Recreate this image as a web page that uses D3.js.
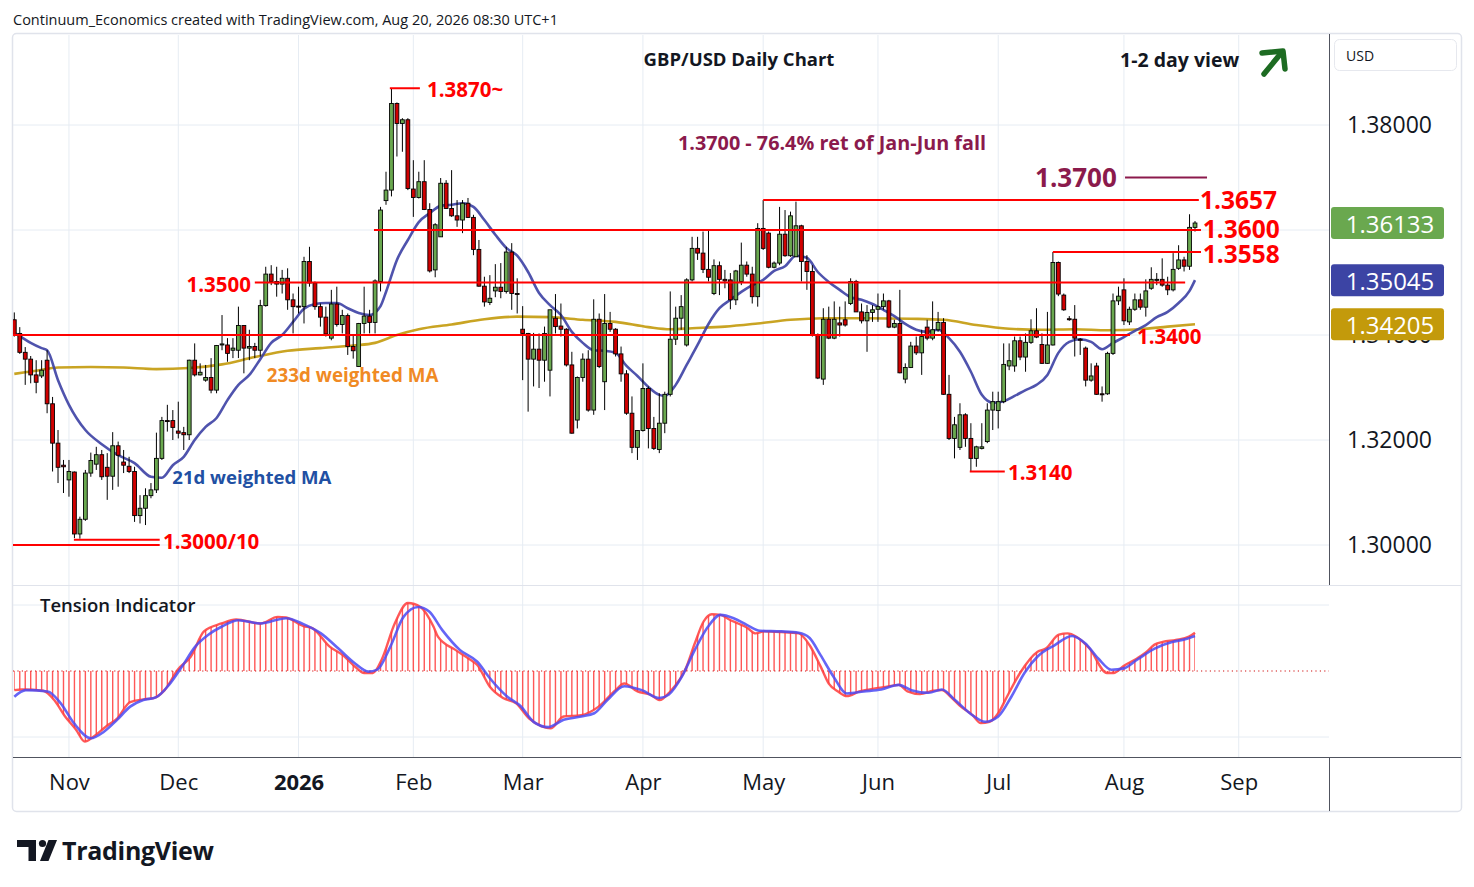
<!DOCTYPE html>
<html>
<head>
<meta charset="utf-8">
<script src="https://cdn.jsdelivr.net/npm/d3@7"></script>
<style>
  body { margin: 0; background: #fff; }
  svg { display: block; font-family: "Open Sans", sans-serif; }
</style>
</head>
<body>
<svg id="chart" width="1474" height="887"></svg>
<script>
// GBP/USD daily candles, Oct 20 2025 - Aug 20 2026 (open, high, low, close)
const ohlc = [
  [1.3429,1.3443,1.3397,1.3400],[1.3403,1.3415,1.3364,1.3367],[1.3367,1.3377,1.3305,1.3354],[1.3354,1.3360,1.3308,1.3324],
  [1.3324,1.3352,1.3289,1.3310],[1.3322,1.3352,1.3318,1.3333],[1.3352,1.3371,1.3251,1.3269],[1.3269,1.3282,1.3140,1.3194],
  [1.3194,1.3219,1.3118,1.3148],[1.3152,1.3162,1.3099,1.3149],[1.3124,1.3162,1.3092,1.3140],[1.3139,1.3140,1.3013,1.3021],
  [1.3021,1.3054,1.3012,1.3049],[1.3049,1.3143,1.3046,1.3137],[1.3137,1.3176,1.3130,1.3161],[1.3154,1.3187,1.3143,1.3172],
  [1.3172,1.3181,1.3124,1.3130],[1.3148,1.3175,1.3086,1.3131],[1.3131,1.3215,1.3105,1.3189],[1.3189,1.3197,1.3111,1.3171],
  [1.3158,1.3181,1.3137,1.3152],[1.3150,1.3168,1.3137,1.3140],[1.3140,1.3149,1.3044,1.3056],[1.3056,1.3095,1.3041,1.3070],
  [1.3070,1.3108,1.3038,1.3094],[1.3094,1.3118,1.3089,1.3105],[1.3105,1.3214,1.3099,1.3165],[1.3165,1.3244,1.3162,1.3237],
  [1.3237,1.3267,1.3216,1.3236],[1.3237,1.3257,1.3200,1.3224],[1.3217,1.3273,1.3203,1.3213],[1.3214,1.3225,1.3181,1.3210],
  [1.3210,1.3353,1.3200,1.3352],[1.3352,1.3384,1.3321,1.3324],[1.3324,1.3346,1.3323,1.3329],[1.3314,1.3343,1.3311,1.3319],
  [1.3319,1.3356,1.3289,1.3295],[1.3295,1.3381,1.3289,1.3380],[1.3381,1.3438,1.3371,1.3383],[1.3381,1.3394,1.3349,1.3365],
  [1.3371,1.3394,1.3356,1.3375],[1.3371,1.3454,1.3356,1.3418],[1.3418,1.3419,1.3327,1.3375],[1.3375,1.3410,1.3352,1.3378],
  [1.3378,1.3385,1.3356,1.3371],[1.3371,1.3467,1.3359,1.3456],[1.3456,1.3530,1.3454,1.3516],[1.3516,1.3533,1.3495,1.3502],
  [1.3502,1.3530,1.3473,1.3497],[1.3497,1.3524,1.3479,1.3508],[1.3508,1.3527,1.3448,1.3467],[1.3467,1.3479,1.3403,1.3454],
  [1.3455,1.3492,1.3441,1.3454],[1.3454,1.3549,1.3422,1.3540],[1.3540,1.3568,1.3492,1.3499],[1.3499,1.3502,1.3448,1.3454],
  [1.3454,1.3460,1.3416,1.3434],[1.3434,1.3454,1.3397,1.3402],[1.3394,1.3486,1.3390,1.3459],[1.3459,1.3492,1.3416,1.3420],
  [1.3420,1.3448,1.3403,1.3437],[1.3437,1.3441,1.3362,1.3378],[1.3378,1.3400,1.3355,1.3370],[1.3340,1.3423,1.3339,1.3422],
  [1.3422,1.3492,1.3403,1.3436],[1.3436,1.3448,1.3403,1.3424],[1.3424,1.3506,1.3403,1.3503],[1.3502,1.3644,1.3483,1.3638],
  [1.3656,1.3711,1.3648,1.3676],[1.3676,1.3870,1.3664,1.3841],[1.3841,1.3843,1.3740,1.3803],[1.3803,1.3813,1.3749,1.3810],
  [1.3810,1.3813,1.3676,1.3679],[1.3678,1.3733,1.3625,1.3662],[1.3662,1.3711,1.3660,1.3692],[1.3692,1.3733,1.3638,1.3639],
  [1.3639,1.3651,1.3519,1.3522],[1.3524,1.3613,1.3510,1.3610],[1.3587,1.3699,1.3587,1.3689],[1.3689,1.3695,1.3640,1.3641],
  [1.3641,1.3714,1.3625,1.3627],[1.3627,1.3657,1.3606,1.3619],[1.3619,1.3657,1.3594,1.3651],[1.3651,1.3661,1.3623,1.3624],
  [1.3624,1.3629,1.3552,1.3563],[1.3563,1.3581,1.3492,1.3493],[1.3493,1.3511,1.3454,1.3463],[1.3462,1.3514,1.3457,1.3470],
  [1.3484,1.3535,1.3472,1.3491],[1.3491,1.3537,1.3470,1.3483],[1.3483,1.3568,1.3479,1.3558],[1.3558,1.3575,1.3448,1.3479],
  [1.3479,1.3508,1.3441,1.3478],[1.3411,1.3455,1.3314,1.3403],[1.3403,1.3404,1.3254,1.3354],[1.3354,1.3404,1.3302,1.3373],
  [1.3373,1.3403,1.3299,1.3352],[1.3352,1.3416,1.3311,1.3403],[1.3333,1.3448,1.3283,1.3448],[1.3432,1.3478,1.3403,1.3416],
  [1.3417,1.3460,1.3397,1.3411],[1.3411,1.3413,1.3340,1.3343],[1.3343,1.3368,1.3212,1.3213],[1.3238,1.3321,1.3222,1.3319],
  [1.3319,1.3365,1.3311,1.3354],[1.3354,1.3371,1.3254,1.3257],[1.3257,1.3468,1.3248,1.3430],[1.3430,1.3441,1.3337,1.3340],
  [1.3311,1.3478,1.3257,1.3422],[1.3422,1.3444,1.3406,1.3411],[1.3411,1.3413,1.3359,1.3364],[1.3364,1.3378,1.3311,1.3326],
  [1.3326,1.3333,1.3248,1.3251],[1.3251,1.3283,1.3175,1.3186],[1.3186,1.3219,1.3162,1.3218],[1.3218,1.3346,1.3216,1.3298],
  [1.3298,1.3302,1.3184,1.3222],[1.3222,1.3244,1.3181,1.3184],[1.3182,1.3289,1.3175,1.3232],[1.3232,1.3292,1.3213,1.3287],
  [1.3287,1.3483,1.3283,1.3392],[1.3392,1.3454,1.3381,1.3432],[1.3432,1.3476,1.3410,1.3454],[1.3381,1.3508,1.3378,1.3505],
  [1.3505,1.3587,1.3502,1.3565],[1.3565,1.3587,1.3543,1.3556],[1.3556,1.3597,1.3518,1.3525],[1.3525,1.3599,1.3502,1.3510],
  [1.3479,1.3544,1.3476,1.3532],[1.3532,1.3540,1.3476,1.3506],[1.3506,1.3524,1.3489,1.3503],[1.3505,1.3518,1.3449,1.3467],
  [1.3467,1.3524,1.3457,1.3522],[1.3502,1.3576,1.3495,1.3533],[1.3533,1.3540,1.3511,1.3516],[1.3516,1.3530,1.3460,1.3473],
  [1.3473,1.3613,1.3454,1.3603],[1.3603,1.3657,1.3562,1.3565],[1.3594,1.3597,1.3527,1.3529],[1.3529,1.3540,1.3527,1.3537],
  [1.3537,1.3644,1.3533,1.3592],[1.3592,1.3638,1.3549,1.3551],[1.3551,1.3635,1.3549,1.3627],[1.3549,1.3654,1.3549,1.3608],
  [1.3608,1.3610,1.3502,1.3540],[1.3540,1.3552,1.3486,1.3521],[1.3521,1.3533,1.3397,1.3400],[1.3400,1.3403,1.3316,1.3318],
  [1.3316,1.3451,1.3305,1.3430],[1.3430,1.3454,1.3392,1.3394],[1.3394,1.3464,1.3392,1.3430],[1.3423,1.3454,1.3397,1.3419],
  [1.3429,1.3464,1.3416,1.3419],[1.3460,1.3508,1.3457,1.3502],[1.3502,1.3505,1.3444,1.3444],[1.3444,1.3460,1.3422,1.3427],
  [1.3427,1.3457,1.3368,1.3443],[1.3443,1.3457,1.3425,1.3448],[1.3449,1.3479,1.3425,1.3454],[1.3454,1.3479,1.3448,1.3465],
  [1.3465,1.3467,1.3413,1.3415],[1.3415,1.3429,1.3413,1.3422],[1.3422,1.3486,1.3327,1.3328],[1.3316,1.3346,1.3308,1.3338],
  [1.3338,1.3387,1.3337,1.3379],[1.3379,1.3397,1.3362,1.3366],[1.3366,1.3410,1.3324,1.3397],[1.3415,1.3429,1.3390,1.3394],
  [1.3394,1.3464,1.3390,1.3410],[1.3410,1.3444,1.3406,1.3424],[1.3424,1.3432,1.3286,1.3287],[1.3287,1.3324,1.3200,1.3203],
  [1.3203,1.3244,1.3165,1.3229],[1.3186,1.3270,1.3181,1.3248],[1.3248,1.3251,1.3187,1.3203],[1.3203,1.3232,1.3140,1.3165],
  [1.3165,1.3189,1.3149,1.3187],[1.3184,1.3232,1.3182,1.3187],[1.3197,1.3270,1.3194,1.3257],[1.3257,1.3292,1.3219,1.3273],
  [1.3256,1.3292,1.3222,1.3273],[1.3273,1.3384,1.3270,1.3344],[1.3341,1.3384,1.3333,1.3351],[1.3341,1.3397,1.3330,1.3389],
  [1.3389,1.3397,1.3352,1.3358],[1.3358,1.3403,1.3330,1.3386],[1.3386,1.3430,1.3383,1.3408],[1.3408,1.3451,1.3394,1.3396],
  [1.3382,1.3403,1.3345,1.3346],[1.3346,1.3444,1.3345,1.3381],[1.3381,1.3558,1.3380,1.3538],[1.3538,1.3540,1.3474,1.3478],
  [1.3476,1.3479,1.3446,1.3448],[1.3431,1.3436,1.3427,1.3430],[1.3430,1.3457,1.3359,1.3394],[1.3392,1.3394,1.3362,1.3390],
  [1.3375,1.3378,1.3302,1.3314],[1.3314,1.3346,1.3311,1.3322],[1.3341,1.3347,1.3286,1.3287],[1.3288,1.3302,1.3273,1.3287],
  [1.3288,1.3368,1.3286,1.3365],[1.3365,1.3479,1.3362,1.3465],[1.3465,1.3492,1.3457,1.3474],[1.3486,1.3508,1.3419,1.3427],
  [1.3425,1.3454,1.3419,1.3449],[1.3449,1.3479,1.3446,1.3467],[1.3467,1.3479,1.3448,1.3453],[1.3453,1.3506,1.3435,1.3484],
  [1.3489,1.3529,1.3486,1.3506],[1.3505,1.3518,1.3495,1.3506],[1.3506,1.3546,1.3492,1.3495],[1.3495,1.3511,1.3476,1.3486],
  [1.3486,1.3556,1.3483,1.3525],[1.3527,1.3571,1.3524,1.3543],[1.3543,1.3549,1.3521,1.3531],[1.3531,1.3630,1.3524,1.3605],
  [1.3605,1.3617,1.3597,1.36133]
];

// 21d weighted MA: [bar index, price]
const ma21 = [
  [0,1.3404],[1,1.3398],[3,1.3385],[5,1.3375],[6,1.3371],[8,1.3314],[10,1.3267],[13,1.3219],[16,1.3192],[19,1.3171],
  [22,1.3156],[25,1.3130],[27,1.3128],[29,1.3152],[31,1.3168],[33,1.3200],[35,1.3225],[37,1.3242],[39,1.3276],[41,1.3305],
  [43,1.3324],[45,1.3354],[47,1.3385],[49,1.3400],[51,1.3425],[53,1.3450],[55,1.3459],[57,1.3461],[59,1.3461],[61,1.3451],
  [63,1.3442],[65,1.3438],[67,1.3455],[68,1.3482],[70,1.3543],[72,1.3581],[74,1.3615],[76,1.3632],[78,1.3646],[80,1.3648],
  [82,1.3651],[84,1.3644],[86,1.3619],[88,1.3591],[90,1.3566],[92,1.3551],[94,1.3520],[96,1.3480],[98,1.3457],[100,1.3438],
  [102,1.3406],[104,1.3385],[106,1.3371],[108,1.3370],[110,1.3366],[112,1.3341],[114,1.3322],[116,1.3301],[118,1.3286],[119,1.3284],
  [121,1.3305],[123,1.3343],[125,1.3381],[127,1.3421],[129,1.3451],[131,1.3467],[133,1.3482],[135,1.3495],[137,1.3505],[139,1.3522],
  [141,1.3531],[143,1.3551],[145,1.3547],[147,1.3520],[149,1.3501],[151,1.3486],[153,1.3472],[155,1.3467],[157,1.3459],[159,1.3448],
  [161,1.3436],[163,1.3421],[165,1.3410],[167,1.3406],[169,1.3410],[171,1.3394],[173,1.3368],[175,1.3330],[177,1.3286],[179,1.3271],
  [181,1.3274],[183,1.3284],[185,1.3295],[187,1.3305],[189,1.3324],[191,1.3366],[193,1.3387],[195,1.3392],[197,1.3387],[199,1.3373],
  [201,1.3385],[203,1.3396],[205,1.3408],[207,1.3419],[209,1.3434],[211,1.3444],[213,1.3461],[215,1.3484],[216,1.35045]
];

// 233d weighted MA: [bar index, price]
const ma233 = [
  [0,1.3326],[4,1.3332],[8,1.3338],[14,1.3339],[20,1.3338],[26,1.3335],[32,1.3337],[38,1.3344],[44,1.3358],[50,1.3370],
  [56,1.3375],[62,1.3380],[66,1.3385],[70,1.3400],[74,1.3411],[80,1.3420],[86,1.3430],[92,1.3435],[98,1.3434],[104,1.3429],
  [110,1.3425],[116,1.3415],[120,1.3411],[124,1.3413],[130,1.3416],[136,1.3422],[142,1.3429],[148,1.3432],[156,1.3432],[164,1.3431],
  [170,1.3429],[176,1.3419],[182,1.3412],[188,1.3410],[194,1.3411],[200,1.3409],[206,1.3411],[211,1.3416],[216,1.34205]
];

// Tension Indicator, fast (red) and slow (blue) lines: [bar index, value]
const tensionFast = [
  [0,-0.29],[1.4,-0.28],[5.3,-0.30],[7.3,-0.44],[9.3,-0.69],[11.3,-0.89],[12.9,-1.07],[14.4,-1.00],[16.8,-0.84],[18.8,-0.72],
  [21.2,-0.47],[23.6,-0.43],[25.5,-0.41],[27.5,-0.29],[29.9,0.02],[32.3,0.22],[34.7,0.60],[37.9,0.72],[40.6,0.78],[45,0.72],
  [48.2,0.82],[49.7,0.81],[52.9,0.68],[54.5,0.65],[57.7,0.37],[60.1,0.24],[62.4,0.06],[64,-0.03],[65.6,-0.03],[67.2,0.17],
  [69.6,0.72],[72,1.03],[74.3,0.97],[76.7,0.67],[77.5,0.52],[80.7,0.32],[83.1,0.19],[84.7,0.09],[87,-0.24],[89.4,-0.41],
  [91.8,-0.49],[94.2,-0.72],[96.5,-0.84],[98.1,-0.87],[100.5,-0.69],[103.7,-0.67],[106.9,-0.54],[110,-0.29],[111.6,-0.19],[114,-0.31],
  [116.4,-0.36],[118,-0.44],[120,-0.31],[122.9,0.05],[124.5,0.42],[126.1,0.75],[127.6,0.86],[129.2,0.85],[130.8,0.78],[132.4,0.72],
  [134,0.66],[135.6,0.57],[137.2,0.60],[140.3,0.59],[143.5,0.57],[145.5,0.39],[147.5,0.07],[149,-0.19],[150.7,-0.31],[152.3,-0.38],
  [154.6,-0.31],[157.8,-0.26],[160.2,-0.23],[161.8,-0.21],[163.4,-0.31],[165.7,-0.35],[168.1,-0.30],[169.7,-0.29],[171.3,-0.39],[172.9,-0.52],
  [175.3,-0.67],[176.8,-0.79],[178.4,-0.77],[180,-0.64],[181.6,-0.39],[184,-0.03],[187.2,0.29],[188.7,0.34],[191.1,0.55],[192.7,0.57],
  [194.3,0.52],[196.7,0.34],[199.9,-0.03],[201.1,-0.03],[203,0.08],[205.4,0.19],[207,0.28],[208.6,0.40],[210.1,0.44],[212.5,0.47],
  [214.9,0.52],[216,0.58]
];
const tensionSlow = [
  [0,-0.39],[2.1,-0.29],[6.1,-0.31],[8.5,-0.49],[10.9,-0.79],[14,-1.02],[16.4,-0.92],[18.8,-0.74],[21.2,-0.54],[23.6,-0.44],
  [25.9,-0.40],[28.3,-0.21],[30.7,0.07],[33.1,0.37],[35.5,0.55],[37.9,0.67],[41,0.77],[45,0.72],[49.7,0.80],[52.9,0.71],
  [56.1,0.57],[59.3,0.34],[62.4,0.11],[64.8,-0.01],[66.4,0.02],[68.8,0.37],[71.2,0.82],[73.9,0.97],[75.9,0.90],[78.3,0.62],
  [81.5,0.32],[84.7,0.14],[87,-0.11],[90.2,-0.39],[92.6,-0.53],[95,-0.77],[97.7,-0.85],[100.5,-0.74],[103.7,-0.69],[106.1,-0.64],
  [108.5,-0.44],[111.6,-0.23],[114.8,-0.29],[118,-0.41],[119.7,-0.36],[122.1,-0.09],[124.5,0.32],[126.9,0.67],[129.2,0.85],[131.6,0.80],
  [134,0.70],[136.4,0.61],[140.3,0.60],[143.5,0.58],[145.5,0.50],[147.5,0.24],[149.9,-0.09],[152.3,-0.34],[155.4,-0.31],[158.6,-0.28],
  [161.8,-0.21],[164.1,-0.29],[167.3,-0.33],[169.7,-0.28],[172.1,-0.44],[175.3,-0.67],[177.6,-0.77],[180,-0.69],[182.4,-0.39],[184.8,-0.03],
  [187.2,0.22],[190.3,0.39],[193.5,0.53],[195.9,0.42],[198.3,0.19],[200.7,0.02],[203,0.04],[205.4,0.17],[208.6,0.34],[211.8,0.44],
  [214.2,0.48],[216,0.53]
];

// month labels on the time axis
const monthLabels = ["Nov", "Dec", "2026", "Feb", "Mar", "Apr", "May", "Jun", "Jul", "Aug", "Sep"];
const priceTicks = [1.30, 1.32, 1.34, 1.36, 1.38];

// support / resistance levels (price, from bar, to bar)
const levelLines = [
  { price: 1.3870, from: 68.7, to: 74.2 },
  { price: 1.3657, from: 137, to: 216.7 },
  { price: 1.3600, from: 65.8, to: 217.1 },
  { price: 1.3558, from: 190, to: 217.1 },
  { price: 1.3500, from: 44.0, to: 214.2 },
  { price: 1.3400, from: -0.4, to: 204.1 },
  { price: 1.3140, from: 174.8, to: 181.2 },
  { price: 1.3010, from: 10.9, to: 26.6 },
  { price: 1.3000, from: -0.4, to: 26.6 }
];
const levelLabels = [
  { text: "1.3870~", price: 1.3868, at: 75.5, anchor: "start", big: false },
  { text: "1.3657", price: 1.3659, at: 216.9, anchor: "start", big: true },
  { text: "1.3600", price: 1.3602, at: 217.4, anchor: "start", big: true },
  { text: "1.3558", price: 1.3555, at: 217.4, anchor: "start", big: true },
  { text: "1.3500", price: 1.3497, at: 43.3, anchor: "end", big: false },
  { text: "1.3400", price: 1.3398, at: 205.4, anchor: "start", big: false },
  { text: "1.3140", price: 1.3140, at: 181.8, anchor: "start", big: false },
  { text: "1.3000/10", price: 1.3007, at: 27.2, anchor: "start", big: false }
];
const retraceLevel = { price: 1.3700, from: 203.2, to: 218.2, text: "1.3700", note: "1.3700 - 76.4% ret of Jan-Jun fall" };

// trading calendar: weekdays, no bars on Dec 25 and Jan 1
const dates = [];
for (let d = new Date(2025, 9, 20); d <= new Date(2026, 8, 30); d.setDate(d.getDate() + 1)) {
  const wd = d.getDay();
  if (wd === 0 || wd === 6) continue;
  if ((d.getMonth() === 11 && d.getDate() === 25) || (d.getMonth() === 0 && d.getDate() === 1)) continue;
  dates.push(new Date(d));
}
const monthStarts = [];
for (let i = 1; i < dates.length; i++) {
  if (dates[i].getMonth() !== dates[i - 1].getMonth()) monthStarts.push(i);
}
const tickIdx = monthStarts.slice(0, monthLabels.length);

const svg = d3.select("#chart");
const left = 13, right = 1329, mainTop = 35, mainBottom = 585, tensBottom = 757;

const x = d3.scaleLinear().domain([0, 216]).range([14.3, 1195]);
const y = d3.scaleLinear().domain([1.30, 1.38]).range([545, 125]);
const yT = d3.scaleLinear().domain([-1, 1]).range([737, 605]);

const defs = svg.append("defs");
defs.append("clipPath").attr("id", "mainClip")
  .append("rect").attr("x", left).attr("y", mainTop).attr("width", right - left).attr("height", mainBottom - mainTop);
defs.append("clipPath").attr("id", "tensClip")
  .append("rect").attr("x", left).attr("y", mainBottom + 1).attr("width", right - left).attr("height", tensBottom - mainBottom - 1);

// frame
svg.append("rect").attr("x", 12.5).attr("y", 33.5).attr("width", 1449).attr("height", 778)
  .attr("fill", "#fff").attr("stroke", "#e0e3eb").attr("stroke-width", 1.5).attr("rx", 4);

// grid
const grid = svg.append("g");
grid.selectAll(".hg").data(priceTicks).join("line")
  .attr("x1", left).attr("x2", right).attr("y1", d => y(d)).attr("y2", d => y(d))
  .attr("stroke", "#e6ecf3").attr("stroke-width", 1);
grid.selectAll(".vg").data(tickIdx).join("line")
  .attr("x1", d => x(d)).attr("x2", d => x(d)).attr("y1", mainTop).attr("y2", tensBottom)
  .attr("stroke", "#e6ecf3").attr("stroke-width", 1);
grid.selectAll(".tg").data([1, -1]).join("line")
  .attr("x1", left).attr("x2", right).attr("y1", d => yT(d)).attr("y2", d => yT(d))
  .attr("stroke", "#e6ecf3").attr("stroke-width", 1);

// pane separators and axis borders
svg.append("line").attr("x1", left).attr("x2", 1461).attr("y1", 585.5).attr("y2", 585.5).attr("stroke", "#e0e3eb");
svg.append("line").attr("x1", left).attr("x2", 1461).attr("y1", 757.5).attr("y2", 757.5).attr("stroke", "#50535e");
svg.append("line").attr("x1", 1329.5).attr("x2", 1329.5).attr("y1", 34).attr("y2", 585).attr("stroke", "#50535e");
svg.append("line").attr("x1", 1329.5).attr("x2", 1329.5).attr("y1", 757).attr("y2", 811).attr("stroke", "#50535e");

// main pane
const main = svg.append("g").attr("clip-path", "url(#mainClip)");

const maLine = d3.line().x(d => x(d[0])).y(d => y(d[1])).curve(d3.curveMonotoneX);
main.append("path").datum(ma233).attr("d", maLine)
  .attr("fill", "none").attr("stroke", "#c39a0b").attr("stroke-width", 2.6).attr("opacity", 0.9);
main.append("path").datum(ma21).attr("d", maLine)
  .attr("fill", "none").attr("stroke", "#3c40a4").attr("stroke-width", 2.6).attr("opacity", 0.9);

const candles = main.append("g");
candles.selectAll("line").data(ohlc).join("line")
  .attr("x1", (d, i) => x(i)).attr("x2", (d, i) => x(i))
  .attr("y1", d => y(d[1])).attr("y2", d => y(d[2]))
  .attr("stroke", "#000").attr("stroke-width", 1);
candles.selectAll("rect").data(ohlc).join("rect")
  .attr("x", (d, i) => x(i) - 1.9).attr("width", 3.8)
  .attr("y", d => y(Math.max(d[0], d[3])))
  .attr("height", d => Math.max(1, Math.abs(y(d[0]) - y(d[3]))))
  .attr("fill", d => d[3] >= d[0] ? "#6aa84f" : "#d00000")
  .attr("stroke", "#000").attr("stroke-width", 0.9);

// level lines
main.selectAll(".lvl").data(levelLines).join("line")
  .attr("x1", d => x(d.from)).attr("x2", d => x(d.to))
  .attr("y1", d => y(d.price)).attr("y2", d => y(d.price))
  .attr("stroke", "#ff0000").attr("stroke-width", 2);
main.append("line")
  .attr("x1", x(retraceLevel.from)).attr("x2", x(retraceLevel.to))
  .attr("y1", y(retraceLevel.price)).attr("y2", y(retraceLevel.price))
  .attr("stroke", "#8b1a4c").attr("stroke-width", 2);

main.selectAll(".lvlTxt").data(levelLabels).join("text")
  .attr("x", d => x(d.at)).attr("y", d => y(d.price))
  .attr("text-anchor", d => d.anchor).attr("dominant-baseline", "central")
  .attr("fill", "#ff0000").attr("font-weight", 700)
  .attr("font-size", d => d.big ? 24.5 : 20.5)
  .text(d => d.text);

main.append("text").attr("x", x(201.7)).attr("y", y(1.3701))
  .attr("text-anchor", "end").attr("dominant-baseline", "central")
  .attr("fill", "#8b1a4c").attr("font-weight", 700).attr("font-size", 26).text(retraceLevel.text);
main.append("text").attr("x", x(149.6)).attr("y", y(1.3766))
  .attr("text-anchor", "middle").attr("dominant-baseline", "central")
  .attr("fill", "#8b1a4c").attr("font-weight", 700).attr("font-size", 19.8).text(retraceLevel.note);

main.append("text").attr("x", x(46.2)).attr("y", y(1.3324))
  .attr("dominant-baseline", "central").attr("fill", "#f08a24")
  .attr("font-weight", 700).attr("font-size", 18.8).text("233d weighted MA");
main.append("text").attr("x", x(28.9)).attr("y", y(1.3131))
  .attr("dominant-baseline", "central").attr("fill", "#2150a3")
  .attr("font-weight", 700).attr("font-size", 18.6).text("21d weighted MA");

// titles
svg.append("text").attr("x", 739).attr("y", 58).attr("text-anchor", "middle").attr("dominant-baseline", "central")
  .attr("font-weight", 700).attr("font-size", 18.5).attr("fill", "#131722").text("GBP/USD Daily Chart");
svg.append("text").attr("x", 1120).attr("y", 59).attr("dominant-baseline", "central")
  .attr("font-weight", 700).attr("font-size", 19.5).attr("fill", "#131722").text("1-2 day view");
const arrow = svg.append("g").attr("stroke", "#1d6b22").attr("stroke-width", 5.5)
  .attr("stroke-linecap", "round").attr("stroke-linejoin", "round").attr("fill", "none");
arrow.append("line").attr("x1", 1264).attr("y1", 74).attr("x2", 1282).attr("y2", 52);
arrow.append("polyline").attr("points", "1262,53 1283,51 1285,69");

svg.append("text").attr("x", 13).attr("y", 19).attr("dominant-baseline", "central")
  .attr("font-size", 14.5).attr("fill", "#131722")
  .text("Continuum_Economics created with TradingView.com, Aug 20, 2026 08:30 UTC+1");

// last value badges
const badges = [
  { v: ohlc[ohlc.length - 1][3], c: "#6aa84f" },
  { v: ma21[ma21.length - 1][1], c: "#3c44a4" },
  { v: ma233[ma233.length - 1][1], c: "#c39a0b" }
];

// price axis (labels fully covered by a badge are not drawn)
const visibleTicks = priceTicks.filter(t => badges.every(b => Math.abs(y(t) - y(b.v)) > 9));
const yAxis = svg.append("g").attr("transform", `translate(${right},0)`)
  .call(d3.axisRight(y).tickValues(visibleTicks).tickFormat(d3.format(".5f")).tickSize(0).tickPadding(18));
yAxis.select(".domain").remove();
yAxis.selectAll("text").attr("font-size", 23).attr("fill", "#131722").attr("font-family", "Open Sans, sans-serif");

// USD box
svg.append("rect").attr("x", 1334.5).attr("y", 39.5).attr("width", 122).attr("height", 31).attr("rx", 5)
  .attr("fill", "#fff").attr("stroke", "#e6e8ee");
svg.append("text").attr("x", 1346).attr("y", 55).attr("dominant-baseline", "central")
  .attr("font-size", 14).attr("fill", "#131722").text("USD");

const bg = svg.selectAll(".badge").data(badges).join("g");
bg.append("rect").attr("x", 1331).attr("y", d => y(d.v) - 16).attr("width", 113).attr("height", 32).attr("rx", 3)
  .attr("fill", d => d.c);
bg.append("text").attr("x", 1390).attr("y", d => y(d.v)).attr("text-anchor", "middle").attr("dominant-baseline", "central")
  .attr("font-size", 24).attr("fill", "#fff").text(d => d3.format(".5f")(d.v));

// tension indicator pane
const tens = svg.append("g").attr("clip-path", "url(#tensClip)");
const areaFast = d3.area().x(d => x(d[0])).y0(yT(0)).y1(d => yT(d[1])).curve(d3.curveMonotoneX);
defs.append("clipPath").attr("id", "hatchClip").append("path").datum(tensionFast).attr("d", areaFast);
tens.append("g").attr("clip-path", "url(#hatchClip)")
  .selectAll("line").data(ohlc).join("line")
  .attr("x1", (d, i) => x(i)).attr("x2", (d, i) => x(i)).attr("y1", 595).attr("y2", 750)
  .attr("stroke", "#ff4545").attr("stroke-width", 1.4).attr("opacity", 0.9);
tens.append("line").attr("x1", left).attr("x2", right).attr("y1", yT(0)).attr("y2", yT(0))
  .attr("stroke", "#d01010").attr("stroke-width", 1.2).attr("stroke-dasharray", "1.2 3.2");
const tLine = d3.line().x(d => x(d[0])).y(d => yT(d[1])).curve(d3.curveMonotoneX);
tens.append("path").datum(tensionFast).attr("d", tLine)
  .attr("fill", "none").attr("stroke", "#ff3b3b").attr("stroke-width", 2.4).attr("opacity", 0.85);
tens.append("path").datum(tensionSlow).attr("d", tLine)
  .attr("fill", "none").attr("stroke", "#4a4af5").attr("stroke-width", 2.6).attr("opacity", 0.85);
svg.append("text").attr("x", 40).attr("y", 604).attr("dominant-baseline", "central")
  .attr("font-weight", 600).attr("font-size", 18.5).attr("fill", "#131722").text("Tension Indicator");

// time axis
const xAxis = svg.append("g").attr("transform", `translate(0,${tensBottom})`)
  .call(d3.axisBottom(x).tickValues(tickIdx).tickFormat((d, i) => monthLabels[i]).tickSize(0).tickPadding(17));
xAxis.select(".domain").remove();
xAxis.selectAll("text").attr("font-size", 22).attr("fill", "#131722").attr("font-family", "Open Sans, sans-serif")
  .attr("font-weight", (d, i) => monthLabels[i] === "2026" ? 700 : 400);

// TradingView logo
const logo = svg.append("g").attr("fill", "#131722");
logo.append("path").attr("d", "M17,840 H36 V861 H28.5 V847 H17 Z");
logo.append("circle").attr("cx", 42.5).attr("cy", 843.5).attr("r", 3.6);
logo.append("path").attr("d", "M48.5,840 H57 L48.5,861 H40 Z");
svg.append("text").attr("x", 62).attr("y", 850).attr("dominant-baseline", "central")
  .attr("font-weight", 700).attr("font-size", 25).attr("fill", "#131722").attr("letter-spacing", -0.3).text("TradingView");
</script>
</body>
</html>
